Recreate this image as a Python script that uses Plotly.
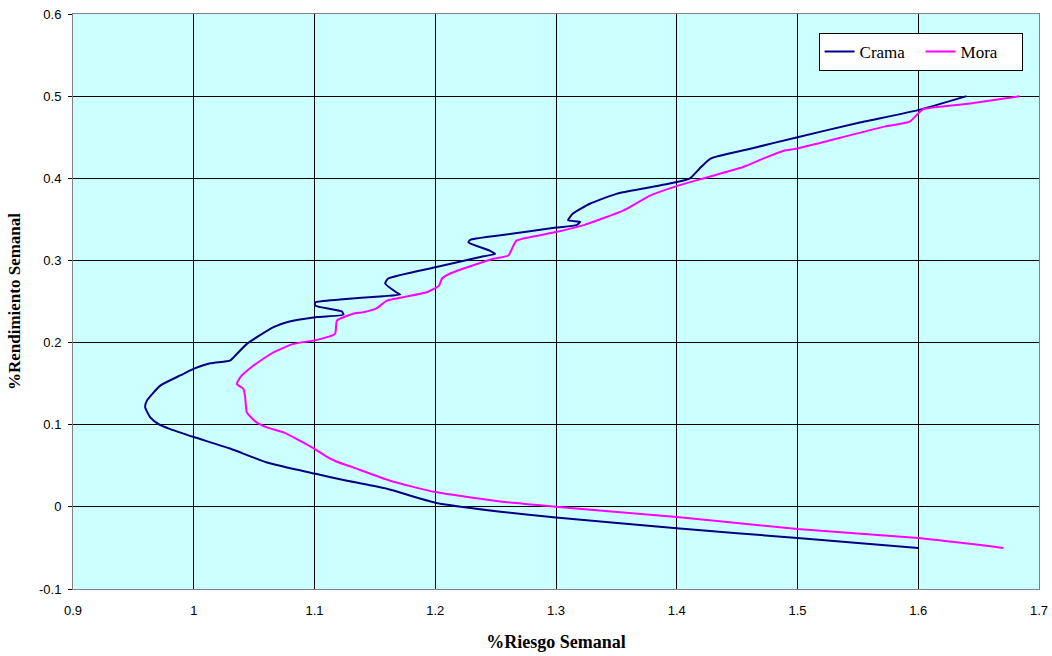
import plotly.graph_objects as go

crama_x = [1.640, 1.600, 1.549, 1.500, 1.461, 1.428, 1.419, 1.411, 1.400, 1.378, 1.350, 1.328, 1.314,
           1.310, 1.320, 1.317, 1.300, 1.251, 1.229, 1.2275, 1.245, 1.2496, 1.240, 1.201, 1.161,
           1.1585, 1.168, 1.171, 1.157, 1.121, 1.1006, 1.1006, 1.1227, 1.124, 1.102, 1.077, 1.066,
           1.044, 1.033, 1.030, 1.0137, 0.9998, 0.9888, 0.9723, 0.9612, 0.9598, 0.964, 0.9709,
           0.9805, 1.000, 1.030, 1.0606, 1.100, 1.127, 1.160, 1.200, 1.254, 1.300, 1.400,
           1.500, 1.600]
crama_y = [0.500, 0.483, 0.467, 0.450, 0.436, 0.424, 0.412, 0.400, 0.3955, 0.389, 0.381, 0.369, 0.357,
           0.349, 0.347, 0.343, 0.340, 0.330, 0.325, 0.322, 0.312, 0.308, 0.305, 0.292, 0.278,
           0.272, 0.261, 0.2585, 0.2565, 0.2524, 0.249, 0.245, 0.2378, 0.234, 0.231, 0.2248, 0.2187,
           0.1984, 0.182, 0.178, 0.1748, 0.1679, 0.160, 0.1476, 0.1293, 0.1211, 0.109, 0.1008,
           0.0947, 0.085, 0.071, 0.054, 0.0405, 0.0317, 0.022, 0.005, -0.006, -0.013, -0.026,
           -0.038, -0.050]

mora_x = [1.684, 1.643, 1.604, 1.600, 1.593, 1.571, 1.516, 1.499, 1.488, 1.4717, 1.455, 1.4248,
          1.400, 1.378, 1.356, 1.323, 1.300, 1.2676, 1.2647, 1.2606, 1.248, 1.212, 1.2055, 1.203,
          1.193, 1.160, 1.1517, 1.1406, 1.132, 1.1186, 1.117, 1.102, 1.0826, 1.066, 1.0495, 1.0385,
          1.0357, 1.0412, 1.0426, 1.044, 1.052, 1.0606, 1.0744, 1.0854, 1.099, 1.1089, 1.1186,
          1.132, 1.1627, 1.200, 1.254, 1.300, 1.400, 1.500, 1.600, 1.6705]
mora_y = [0.500, 0.491, 0.484, 0.479, 0.469, 0.4626, 0.442, 0.436, 0.4333, 0.424, 0.4138, 0.401,
          0.3905, 0.379, 0.361, 0.343, 0.3345, 0.3244, 0.318, 0.306, 0.302, 0.2838, 0.2777, 0.269,
          0.2613, 0.251, 0.242, 0.237, 0.235, 0.2268, 0.2106, 0.2033, 0.1984, 0.1882, 0.172, 0.1577,
          0.1496, 0.1435, 0.1333, 0.115, 0.1028, 0.0967, 0.0906, 0.0825, 0.0715, 0.0622, 0.0549,
          0.048, 0.0317, 0.018, 0.0065, 0.000, -0.0122, -0.027, -0.038, -0.050]

x_ticks = [0.9, 1, 1.1, 1.2, 1.3, 1.4, 1.5, 1.6, 1.7]
y_ticks = [-0.1, 0, 0.1, 0.2, 0.3, 0.4, 0.5, 0.6]

fig = go.Figure()
fig.add_trace(go.Scatter(x=crama_x, y=crama_y, mode="lines", name="Crama",
                         line=dict(color="#000080", width=2, shape="spline", smoothing=0.5)))
fig.add_trace(go.Scatter(x=mora_x, y=mora_y, mode="lines", name="Mora",
                         line=dict(color="#FF00FF", width=2, shape="spline", smoothing=0.5)))

fig.update_layout(
    width=1052, height=656,
    margin=dict(l=73, r=13, t=14, b=67),
    paper_bgcolor="white",
    plot_bgcolor="#CCFFFF",
    font=dict(family="Liberation Sans, Arial", size=13, color="black"),
    showlegend=True,
    legend=dict(orientation="h", x=0.983, xanchor="right", y=0.967, yanchor="top",
                bgcolor="white", bordercolor="black", borderwidth=1,
                font=dict(family="Liberation Serif, Times New Roman", size=17, color="black"),
                entrywidth=56, itemwidth=30),
    xaxis=dict(range=[0.9, 1.7], tickvals=x_ticks, ticktext=[f"{v:g}" for v in x_ticks],
               showgrid=True, gridcolor="black", gridwidth=1, zeroline=False, automargin=False,
               showline=True, linecolor="#808080", linewidth=1, mirror=True,
               ticks="outside", ticklen=9, tickcolor="rgba(0,0,0,0)",
               title=dict(text="%Riesgo Semanal", standoff=18,
                          font=dict(family="Liberation Serif, Times New Roman", size=18, color="black",
                                    weight="bold"))),
    yaxis=dict(range=[-0.1, 0.6], tickvals=y_ticks, ticktext=[f"{v:g}" for v in y_ticks],
               showgrid=True, gridcolor="black", gridwidth=1, zeroline=False, automargin=False,
               showline=True, linecolor="#808080", linewidth=1, mirror=True,
               ticks="outside", ticklen=4, tickcolor="black", ticklabelstandoff=4,
               title=dict(text="%Rendimiento Semanal", standoff=14,
                          font=dict(family="Liberation Serif, Times New Roman", size=17, color="black",
                                    weight="bold"))),
)

fig.write_html("out.html")
